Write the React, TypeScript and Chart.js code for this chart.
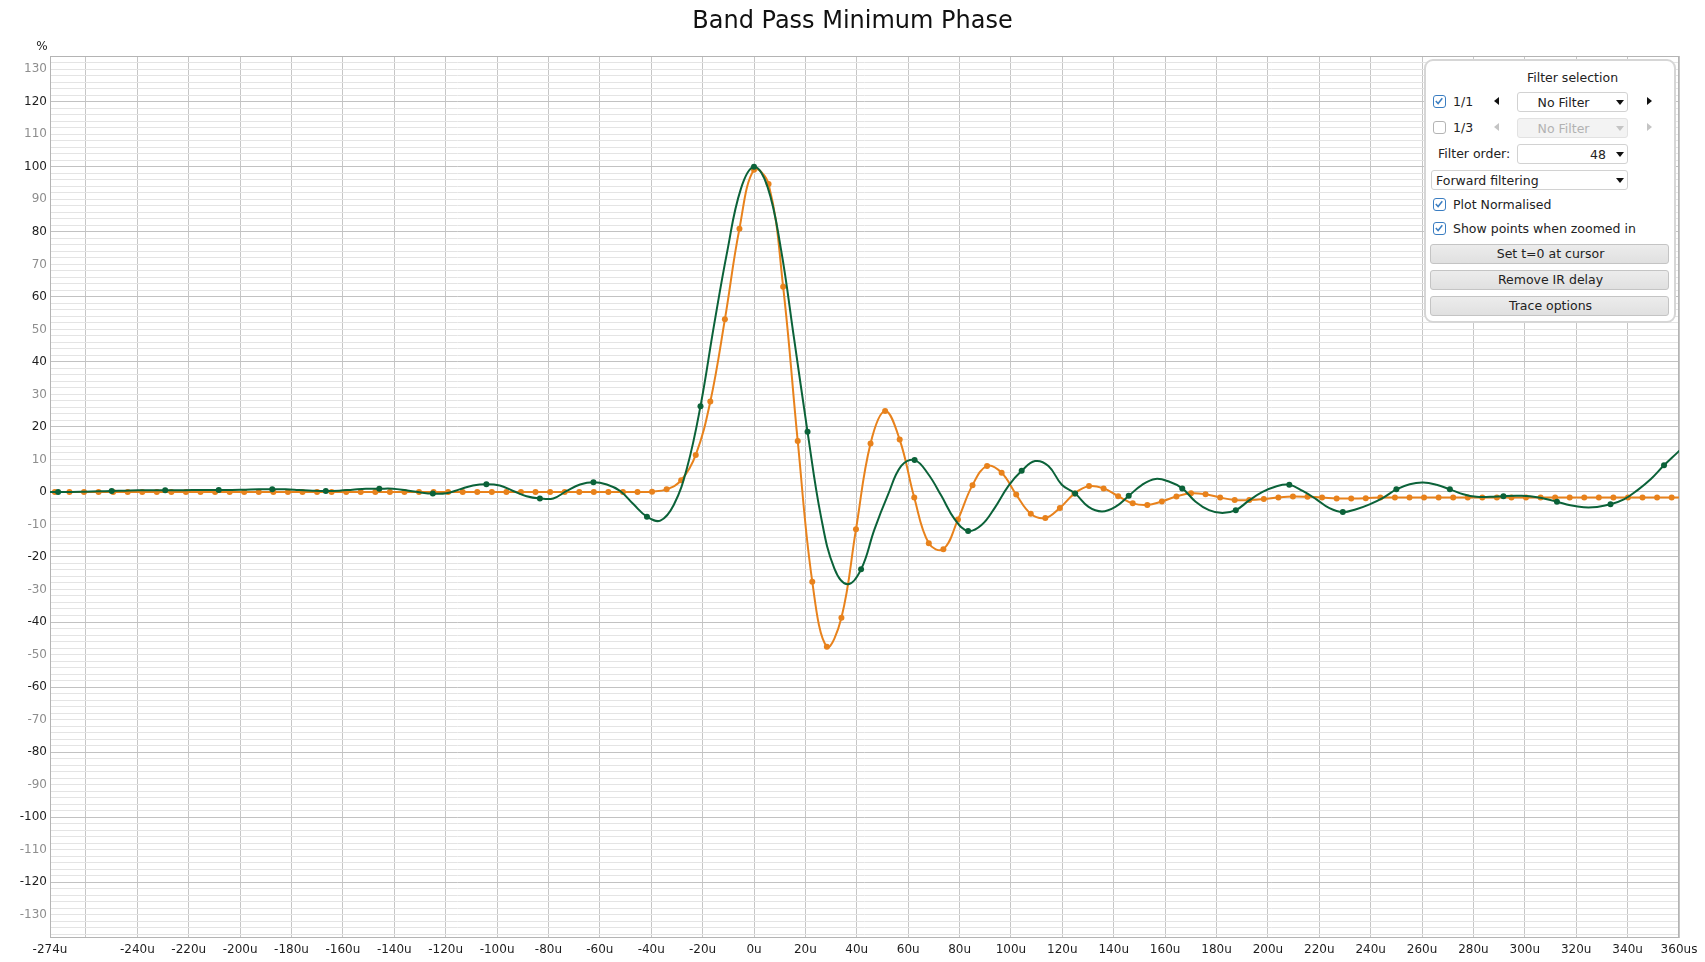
import React, { useEffect, useRef } from 'react';
import { Chart, registerables } from 'chart.js';

Chart.register(...registerables);

// ---------- data ----------
const TITLE = 'Band Pass Minimum Phase';
const Y_UNIT = '%';
const X_MIN = -274;
const X_MAX = 360;
const Y_MIN = -137.2;
const Y_MAX = 134.1;

const xTicks = [-274, -260, -240, -220, -200, -180, -160, -140, -120, -100, -80, -60, -40, -20, 0, 20, 40, 60, 80, 100, 120, 140, 160, 180, 200, 220, 240, 260, 280, 300, 320, 340, 360];
const xTickLabels = ['-274u', '', '-240u', '-220u', '-200u', '-180u', '-160u', '-140u', '-120u', '-100u', '-80u', '-60u', '-40u', '-20u', '0u', '20u', '40u', '60u', '80u', '100u', '120u', '140u', '160u', '180u', '200u', '220u', '240u', '260u', '280u', '300u', '320u', '340u', '360us'];

// orange trace: 176.4 kHz samples (µs spacing), first sample index -49
const orangeSampleUs = 1e6 / 176400;
const orangeFirstIndex = -49;
const orangeValues = [
  0, 0, 0, 0, 0, 0, 0, 0, 0, 0,
  0, 0, 0, 0, 0, 0, 0, 0, 0, 0,
  0, 0, 0, 0, 0, 0, 0, 0, 0, 0,
  0, 0, 0, 0, 0, 0, 0, 0, 0, 0,
  0, 0, 0.1, 0.8, 3.6, 11.4, 27.8, 53.1, 81.0, 99.1,
  94.7, 63.1, 15.7, -27.6, -47.6, -38.7, -11.5, 14.9, 24.9, 16.1,
  -1.7, -15.8, -17.6, -8.5, 2.1, 8.0, 5.9, -0.8, -6.7, -8.0,
  -4.9, -0.5, 1.8, 1.1, -1.3, -3.5, -4.0, -2.9, -1.4, -0.4,
  -0.7, -1.7, -2.5, -2.5, -2.2, -1.7, -1.4, -1.5, -1.7, -2.0,
  -2.0, -1.9, -1.7, -1.7, -1.7, -1.7, -1.7, -1.7, -1.7, -1.7,
  -1.7, -1.7, -1.7, -1.7, -1.7, -1.7, -1.7, -1.7, -1.7, -1.7,
  -1.7, -1.7, -1.7, -1.7,
];

// green trace: 48 kHz samples, curve read at quarter-sample spacing; dots every 4th
const greenSampleUs = 1e6 / 48000;
const greenCurveStep = 4;
const greenFirstIndex = -53;
const greenValues = [
  0, 0, 0.0, 0.1, 0.2, 0.3, 0.4, 0.5, 0.5, 0.5,
  0.5, 0.6, 0.6, 0.6, 0.6, 0.7, 0.8, 0.8, 0.8, 0.6,
  0.4, 0.3, 0.4, 0.7, 1.0, 1.0, 1.0, 0.5, -0.1, -0.5,
  -0.4, 0.8, 2.0, 2.4, 2.0, 0.3, -1.3, -2.0, -2.0, 0.3,
  2.3, 3.0, 2.3, 0.3, -3.8, -7.6, -8.8, -4.0, 7.5, 26.4,
  51.0, 74.0, 93.0, 100, 94.0, 75.0, 47.0, 18.5, -7.5, -23.5,
  -28.4, -23.8, -11.5, -1.0, 8.0, 9.8, 5.6, -1.2, -8.4, -12.0,
  -10.2, -4.8, 1.8, 6.5, 9.5, 8.0, 2.2, -0.5, -4.6, -6.0,
  -4.6, -1.2, 2.2, 4.0, 3.2, 1.1, -3.0, -5.6, -6.5, -5.6,
  -2.6, 0.0, 1.7, 2.2, 0.3, -2.2, -5.0, -6.2, -5.3, -3.8,
  -1.8, 0.8, 2.4, 2.9, 2.2, 0.8, -0.7, -1.5, -1.5, -1.3,
  -1.2, -1.3, -2.0, -3.0, -4.1, -4.7, -4.6, -3.8, -2.3, 0.5,
  3.9, 8.2, 12.1, 16.0,
];

const ORANGE = '#e8821c';
const GREEN = '#0b6239';
const FONT = '"DejaVu Sans", Verdana, sans-serif';

// ---------- chart ----------
function buildYTicks() {
  const out: { value: number }[] = [];
  for (let v = -136; v <= 134; v += 2) out.push({ value: v });
  return out;
}

const decorPlugin = {
  id: 'decor',
  beforeDatasetsDraw(chart: any) {
    const { ctx, chartArea: a } = chart;
    ctx.save();
    ctx.strokeStyle = '#b4b4b4';
    ctx.lineWidth = 1;
    ctx.strokeRect(Math.round(a.left) + 0.5, Math.round(a.top) + 0.5, Math.round(a.right - a.left) - 1, Math.round(a.bottom - a.top) - 1);
    ctx.restore();
  },
  afterDraw(chart: any) {
    const { ctx } = chart;
    ctx.save();
    ctx.fillStyle = '#111';
    ctx.textAlign = 'center';
    ctx.textBaseline = 'middle';
    ctx.font = '24px ' + FONT;
    ctx.fillText(TITLE, chart.width / 2, 21.5);
    ctx.font = '12px ' + FONT;
    ctx.fillStyle = '#222';
    ctx.fillText(Y_UNIT, 42, 47);
    ctx.restore();
  },
};

function ImpulseChart() {
  const ref = useRef<HTMLCanvasElement | null>(null);
  useEffect(() => {
    if (!ref.current) return;
    const orangeData = orangeValues.map((v, i) => ({ x: (orangeFirstIndex + i) * orangeSampleUs, y: v }));
    const greenData = greenValues.map((v, i) => ({ x: ((greenFirstIndex + i) * greenSampleUs) / greenCurveStep, y: v }));
    const chart = new Chart(ref.current, {
      type: 'line',
      data: {
        datasets: [
          {
            label: 'green',
            data: greenData,
            borderColor: GREEN,
            backgroundColor: GREEN,
            borderWidth: 2,
            tension: 0.4,
            pointRadius: (c: any) => (((greenFirstIndex + c.dataIndex) % greenCurveStep) === 0 ? 3 : 0),
            pointBorderWidth: 0,
            pointHoverRadius: 0,
            order: 0,
          },
          {
            label: 'orange',
            data: orangeData,
            borderColor: ORANGE,
            backgroundColor: ORANGE,
            borderWidth: 2,
            tension: 0.4,
            pointRadius: 3,
            pointBorderWidth: 0,
            pointHoverRadius: 0,
            order: 1,
          },
        ],
      },
      options: {
        animation: false,
        responsive: false,
        devicePixelRatio: 1,
        events: [],
        layout: { padding: { top: 56, right: 26, left: 0, bottom: 0 } },
        plugins: { legend: { display: false }, tooltip: { enabled: false }, title: { display: false } },
        scales: {
          x: {
            type: 'linear',
            min: X_MIN,
            max: X_MAX,
            afterBuildTicks: (s: any) => { s.ticks = xTicks.map((value) => ({ value })); },
            afterFit: (s: any) => { s.height = 24; },
            ticks: {
              autoSkip: false,
              maxRotation: 0,
              minRotation: 0,
              padding: 5,
              color: '#1e1e1e',
              font: { family: FONT, size: 12 },
              callback: (_v: any, i: number) => xTickLabels[i],
            },
            grid: { color: '#c6c6c6', lineWidth: 1, drawTicks: false },
            border: { display: false },
          },
          y: {
            type: 'linear',
            min: Y_MIN,
            max: Y_MAX,
            afterBuildTicks: (s: any) => { s.ticks = buildYTicks(); },
            afterFit: (s: any) => { s.width = 50; },
            ticks: {
              autoSkip: false,
              padding: 3,
              font: { family: FONT, size: 12 },
              color: (c: any) => (c.tick && Math.abs(c.tick.value) % 20 === 0 ? '#1e1e1e' : '#8e8e8e'),
              callback: (v: any) => (Math.abs(v) % 10 === 0 && Math.abs(v) <= 130 ? String(v) : ''),
            },
            grid: {
              drawTicks: false,
              lineWidth: 1,
              color: (c: any) => (c.tick && Math.abs(c.tick.value) % 20 === 0 ? '#c2c2c2' : '#e4e4e4'),
            },
            border: { display: false },
          },
        },
      } as any,
      plugins: [decorPlugin],
    });
    return () => chart.destroy();
  }, []);
  return <canvas ref={ref} width={1705} height={962} style={{ display: 'block' }} />;
}

// ---------- filter panel (HTML overlay) ----------
const abs = (s: React.CSSProperties): React.CSSProperties => ({ position: 'absolute', ...s });

function Label({ x, cy, text, color = '#222', center = false, right = false }: any) {
  const tx = center ? 'translate(-50%,-50%)' : right ? 'translate(-100%,-50%)' : 'translateY(-50%)';
  return <div style={abs({ left: x, top: cy, transform: tx, whiteSpace: 'nowrap', color, fontSize: 12.5, lineHeight: '15px' })}>{text}</div>;
}

function Check({ x, cy, checked }: any) {
  return (
    <div style={abs({ left: x, top: cy - 6.5, width: 13, height: 13, boxSizing: 'border-box', borderRadius: 3, background: '#fff', border: checked ? '1.5px solid #3b7ec2' : '1.5px solid #b4b4b4' })}>
      {checked && (
        <svg width="10" height="10" viewBox="0 0 10 10" style={{ position: 'absolute', left: 0, top: 0 }}>
          <path d="M1.8 5.1 L4.1 7.5 L8.3 2.3" stroke="#3b7ec2" strokeWidth="1.5" fill="none" />
        </svg>
      )}
    </div>
  );
}

function TriDown({ x, cy, color = '#111' }: any) {
  return <div style={abs({ left: x, top: cy - 2, width: 0, height: 0, borderLeft: '4px solid transparent', borderRight: '4px solid transparent', borderTop: `5px solid ${color}` })} />;
}
function TriLeft({ x, cy, color = '#111' }: any) {
  return <div style={abs({ left: x, top: cy - 4, width: 0, height: 0, borderTop: '4px solid transparent', borderBottom: '4px solid transparent', borderRight: `5px solid ${color}` })} />;
}
function TriRight({ x, cy, color = '#111' }: any) {
  return <div style={abs({ left: x, top: cy - 4, width: 0, height: 0, borderTop: '4px solid transparent', borderBottom: '4px solid transparent', borderLeft: `5px solid ${color}` })} />;
}

function Drop({ x, y, w, h, text, mode, disabled = false }: any) {
  const color = disabled ? '#b2b2b2' : '#222';
  const cy = h / 2 - 1;
  return (
    <div style={abs({ left: x, top: y, width: w, height: h, boxSizing: 'border-box', border: `1px solid ${disabled ? '#e2e2e2' : '#d2d2d2'}`, borderRadius: 3, background: disabled ? '#f3f3f3' : '#fff' })}>
      {mode === 'center' && <Label x={(w - 20) / 2} cy={cy} text={text} color={color} center />}
      {mode === 'right' && <Label x={w - 23} cy={cy} text={text} color={color} right />}
      {mode === 'left' && <Label x={4} cy={cy} text={text} color={color} />}
      <TriDown x={w - 13} cy={cy} color={disabled ? '#c4c4c4' : '#111'} />
    </div>
  );
}

function Button({ y, text }: any) {
  return (
    <div style={abs({ left: 1430, top: y, width: 239, height: 20, boxSizing: 'border-box', border: '1px solid #c4c4c4', borderRadius: 3, background: 'linear-gradient(#ececec, #e0e0e0)' })}>
      <Label x={119.5} cy={8.5} text={text} center />
    </div>
  );
}

function FilterPanel() {
  return (
    <div style={{ fontFamily: FONT }}>
      <div style={abs({ left: 1424, top: 59, width: 252, height: 264, boxSizing: 'border-box', border: '2.5px solid #d6d6d6', borderRadius: 9, background: '#fff' })} />
      <Label x={1572.5} cy={76.5} text="Filter selection" center />
      <Check x={1433} cy={101.2} checked />
      <Label x={1453} cy={100.7} text="1/1" />
      <TriLeft x={1493.5} cy={101.2} />
      <Drop x={1517} y={91.5} w={111} h={20} text="No Filter" mode="center" />
      <TriRight x={1647} cy={101.2} />
      <Check x={1433} cy={127.2} checked={false} />
      <Label x={1453} cy={126.7} text="1/3" />
      <TriLeft x={1493.5} cy={127.2} color="#c4c4c4" />
      <Drop x={1517} y={117.5} w={111} h={20} text="No Filter" mode="center" disabled />
      <TriRight x={1647} cy={127.2} color="#c4c4c4" />
      <Label x={1438} cy={152.7} text="Filter order:" />
      <Drop x={1517} y={143.5} w={111} h={20} text="48" mode="right" />
      <Drop x={1431} y={169.5} w={197} h={20} text="Forward filtering" mode="left" />
      <Check x={1433} cy={204.3} checked />
      <Label x={1453} cy={203.8} text="Plot Normalised" />
      <Check x={1433} cy={228.3} checked />
      <Label x={1453} cy={227.8} text="Show points when zoomed in" />
      <Button y={243.5} text="Set t=0 at cursor" />
      <Button y={269.5} text="Remove IR delay" />
      <Button y={295.5} text="Trace options" />
    </div>
  );
}

export default function App() {
  return (
    <div style={{ position: 'fixed', left: 0, top: 0, width: 1705, height: 962, background: '#fff', overflow: 'hidden' }}>
      <ImpulseChart />
      <FilterPanel />
    </div>
  );
}
